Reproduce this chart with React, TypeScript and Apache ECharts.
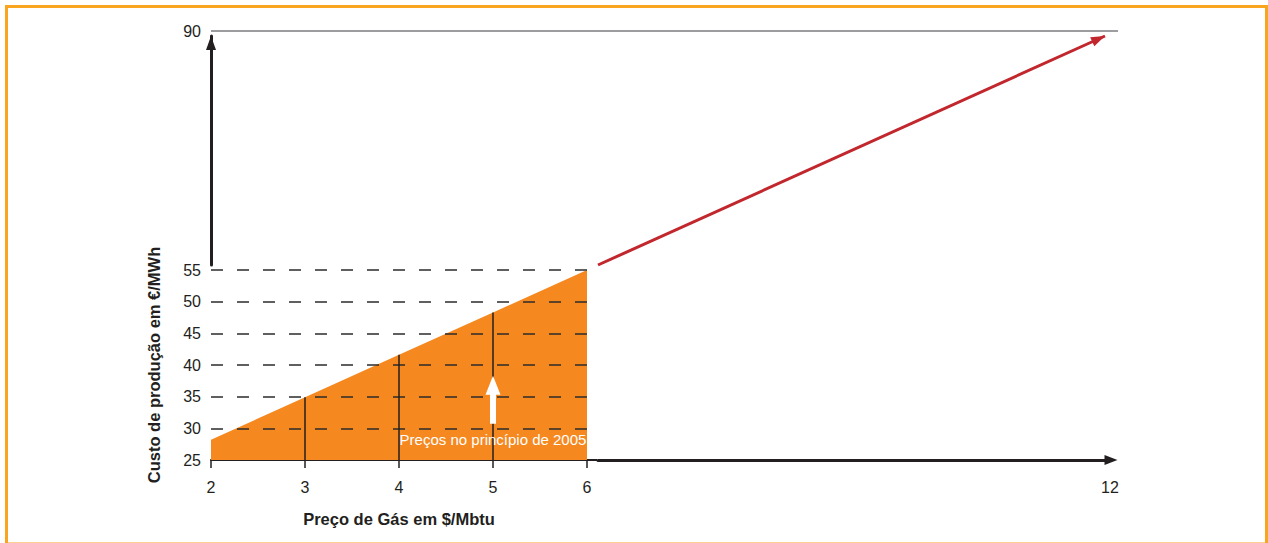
import { useEffect, useRef } from "react";
import * as echarts from "echarts";

// ---- data ----
const gasPrices = [2, 3, 4, 5, 6];
const productionCost = [28.2, 34.9, 41.6, 48.3, 55];
const markedPrices = [3, 4, 5];
const extensionPrices = [6, 12];
const extensionCost = [55, 90];
const baseTick = [25];
const annotationPoint = [5, 34.5];
const annotationText = "Preços no princípio de 2005";
const yTitle = "Custo de produção em €/MWh";
const xTitle = "Preço de Gás em $/Mbtu";

const FONT = "'Liberation Sans', Arial, Helvetica, sans-serif";
const TEXT = "#231f20";
const ORANGE = "#f5881f";
const RED = "#c1272d";
const ARROW_PATH = "path://M7.5,0L15,19L10.5,19L10.5,48L4.5,48L4.5,19L0,19Z";

export default function App() {
  const ref = useRef<HTMLDivElement>(null);

  useEffect(() => {
    if (!ref.current) return;
    const chart = echarts.init(ref.current, null, { renderer: "svg" });

    const option: any = {
      animation: false,
      backgroundColor: "#ffffff",
      textStyle: { fontFamily: FONT },
      graphic: [
        {
          type: "rect",
          silent: true,
          z: 0,
          shape: { x: 6.5, y: 6.5, width: 1260, height: 537.5 },
          style: { fill: "none", stroke: "#f9a51f", lineWidth: 3 },
        },
      ],
      grid: [
        { left: 211, top: 270, width: 376, height: 190 },
        { left: 598, top: 36, width: 507, height: 229 },
        { left: 211, top: 31, width: 907, height: 234 },
      ],
      xAxis: [
        {
          gridIndex: 0,
          type: "value",
          min: 2,
          max: 6,
          interval: 1,
          name: xTitle,
          nameLocation: "middle",
          nameGap: 50,
          nameTextStyle: { fontWeight: "bold", fontSize: 16.5, color: TEXT, fontFamily: FONT },
          axisLine: { onZero: false, lineStyle: { color: TEXT, width: 2 } },
          axisTick: { show: true, length: 8, lineStyle: { color: TEXT, width: 1.5 } },
          axisLabel: { margin: 19, fontSize: 16, color: TEXT, fontFamily: FONT },
          splitLine: { show: false },
        },
        {
          gridIndex: 1,
          type: "value",
          min: 6,
          max: 12,
          interval: 6,
          position: "bottom",
          offset: 195,
          axisLine: {
            onZero: false,
            symbol: ["none", "triangle"],
            symbolSize: [10, 13],
            symbolOffset: [0, 6],
            lineStyle: { color: TEXT, width: 3 },
          },
          axisTick: { show: false },
          axisLabel: {
            showMinLabel: false,
            margin: 19,
            fontSize: 16,
            color: TEXT,
            fontFamily: FONT,
            padding: [0, 0, 0, 10],
          },
          splitLine: { show: false },
        },
        { gridIndex: 2, type: "value", show: false, min: 0, max: 1 },
      ],
      yAxis: [
        {
          gridIndex: 0,
          type: "value",
          min: 25,
          max: 55,
          interval: 5,
          z: 3,
          name: yTitle,
          nameLocation: "middle",
          nameGap: 49,
          nameTextStyle: { fontWeight: "bold", fontSize: 16.5, color: TEXT, fontFamily: FONT },
          axisLine: { show: false },
          axisTick: { show: false },
          axisLabel: {
            margin: 10,
            fontSize: 16,
            color: TEXT,
            fontFamily: FONT,
            padding: [0, 0, 7, 0],
          },
          splitLine: {
            show: true,
            showMinLine: false,
            lineStyle: { color: "#2b2b2b", width: 1.5, type: [12, 14] },
          },
        },
        {
          gridIndex: 1,
          type: "value",
          min: 55,
          max: 90,
          interval: 35,
          position: "left",
          offset: 387,
          axisLine: {
            show: true,
            onZero: false,
            symbol: ["none", "triangle"],
            symbolSize: [10, 14],
            symbolOffset: [0, -7],
            lineStyle: { color: TEXT, width: 3 },
          },
          axisTick: { show: false },
          axisLabel: { show: false },
          splitLine: { show: false },
        },
        {
          gridIndex: 2,
          type: "value",
          min: 55,
          max: 90,
          interval: 35,
          axisLine: { show: false },
          axisTick: { show: false },
          axisLabel: {
            showMinLabel: false,
            margin: 10,
            fontSize: 16,
            color: TEXT,
            fontFamily: FONT,
            padding: [0, 0, 7, 0],
          },
          splitLine: {
            show: true,
            showMinLine: false,
            lineStyle: { color: "#9d9d9f", width: 2 },
          },
        },
        {
          gridIndex: 0,
          type: "value",
          min: 25,
          max: 55,
          interval: 5,
          axisLine: { show: false },
          axisLabel: { show: false },
          splitLine: { show: false },
          axisTick: {
            show: true,
            customValues: baseTick,
            length: 10,
            lineStyle: { color: TEXT, width: 2 },
          },
        },
      ],
      series: [
        {
          type: "line",
          xAxisIndex: 0,
          yAxisIndex: 0,
          z: 2,
          silent: true,
          symbol: "none",
          data: gasPrices.map((x, i) => [x, productionCost[i]]),
          lineStyle: { width: 0, opacity: 0 },
          areaStyle: { color: ORANGE, opacity: 1, origin: "start" },
          markLine: {
            silent: true,
            symbol: ["none", "none"],
            label: { show: false },
            lineStyle: { color: TEXT, width: 1.5, type: "solid" },
            data: markedPrices.map((p) => [
              { coord: [p, 25] },
              { coord: [p, productionCost[gasPrices.indexOf(p)]] },
            ]),
          },
        },
        {
          type: "line",
          xAxisIndex: 1,
          yAxisIndex: 1,
          silent: true,
          symbol: "none",
          data: extensionPrices.map((x, i) => [x, extensionCost[i]]),
          lineStyle: { width: 0, opacity: 0 },
          markLine: {
            silent: true,
            symbol: ["none", "triangle"],
            symbolSize: [10, 14],
            symbolOffset: [0, [0, 7]],
            label: { show: false },
            lineStyle: { color: RED, width: 3, type: "solid" },
            itemStyle: { color: RED },
            data: [
              [
                { coord: [extensionPrices[0], extensionCost[0]] },
                { coord: [extensionPrices[1], extensionCost[1]] },
              ],
            ],
          },
        },
        {
          type: "scatter",
          xAxisIndex: 0,
          yAxisIndex: 0,
          z: 6,
          silent: true,
          data: [annotationPoint],
          symbol: ARROW_PATH,
          symbolSize: [15, 48],
          itemStyle: { color: "#ffffff", opacity: 1 },
          label: {
            show: true,
            position: "bottom",
            distance: 8,
            formatter: annotationText,
            color: "#ffffff",
            fontSize: 15,
            fontFamily: FONT,
          },
        },
      ],
    };

    chart.setOption(option);
    return () => chart.dispose();
  }, []);

  return (
    <div
      ref={ref}
      style={{
        position: "fixed",
        left: 0,
        top: 0,
        width: 1268,
        height: 543,
        background: "#ffffff",
      }}
    />
  );
}
